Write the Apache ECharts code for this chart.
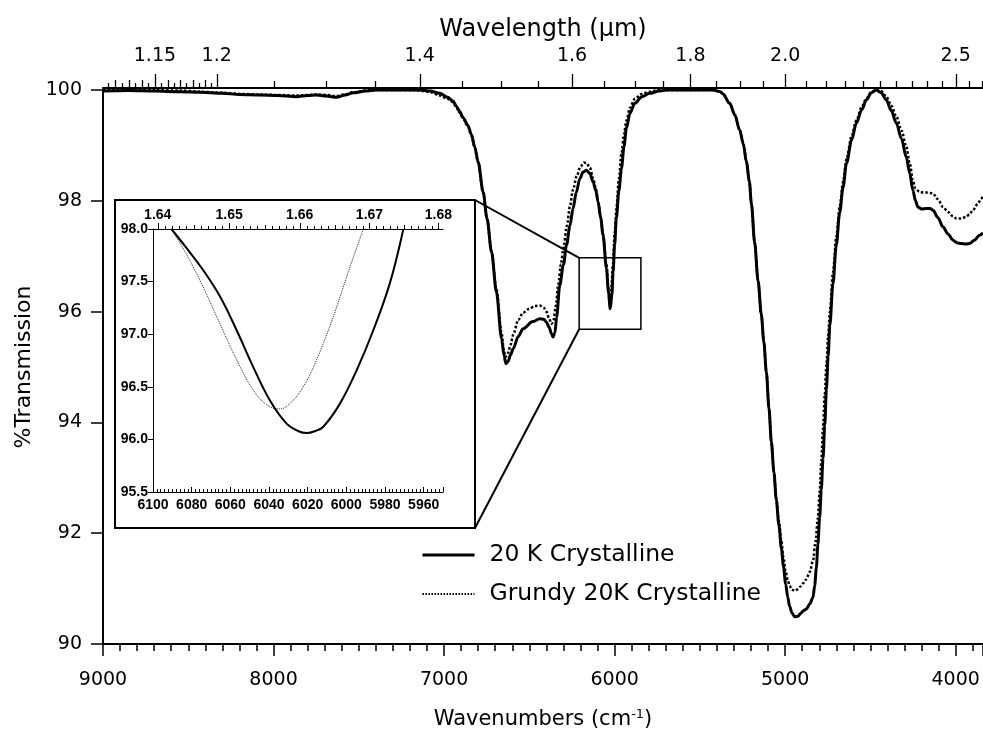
<!DOCTYPE html>
<html><head><meta charset="utf-8">
<script src="https://cdn.jsdelivr.net/npm/echarts@6/dist/echarts.min.js"></script>
<style>html,body{margin:0;padding:0;background:#fff}#c{width:983px;height:731px}</style>
</head><body><div id="c"></div>
<script>
// ---------------- data ----------------
const seriesNames = ['20 K Crystalline', 'Grundy 20K Crystalline'];

const wn20K = [9000,8850,8700,8550,8430,8300,8200,8080,7980,7865,7800,7748,7690,7630,7580,7533,7460,7400,7300,7200,7140,7080,7025,6980,6947,6927,6910,6888,6860,6839,6820,6800,6771,6748,6722,6693,6663,6648,6638,6625,6610,6595,6565,6537,6480,6439,6415,6400,6385,6370,6361,6350,6340,6322,6300,6282,6262,6244,6225,6204,6185,6165,6145,6126,6110,6097,6082,6068,6048,6036,6026,6016,6009,6000,5990,5975,5960,5945,5931,5910,5882,5840,5794,5740,5696,5600,5500,5423,5380,5365,5325,5295,5267,5245,5227,5210,5198,5179,5159,5140,5125,5110,5095,5081,5066,5052,5037,5022,5010,4997,4985,4974,4960,4944,4925,4910,4893,4876,4856,4837,4827,4817,4808,4798,4788,4778,4768,4758,4748,4738,4720,4700,4681,4660,4641,4610,4583,4550,4524,4495,4466,4437,4407,4378,4348,4318,4290,4270,4251,4236,4222,4200,4173,4150,4133,4105,4075,4045,4016,3990,3967,3940,3919,3890,3860,3840];
const t20K = [99.98,99.99,99.98,99.97,99.96,99.94,99.92,99.91,99.90,99.88,99.90,99.91,99.89,99.87,99.91,99.95,99.98,100.0,100.0,100.0,100.0,99.98,99.94,99.87,99.80,99.70,99.62,99.50,99.36,99.19,98.97,98.70,98.16,97.68,97.08,96.35,95.51,95.20,95.06,95.10,95.22,95.33,95.55,95.69,95.82,95.87,95.86,95.81,95.72,95.60,95.54,95.62,95.90,96.47,96.85,97.20,97.55,97.86,98.15,98.40,98.52,98.55,98.49,98.34,98.18,97.98,97.70,97.38,96.78,96.35,96.05,96.30,96.71,97.20,97.68,98.18,98.58,98.98,99.31,99.58,99.76,99.88,99.94,99.98,100.0,100.0,100.0,100.0,99.97,99.93,99.76,99.55,99.28,99.02,98.70,98.35,97.95,97.25,96.56,95.95,95.45,94.90,94.25,93.65,93.10,92.60,92.15,91.72,91.40,91.08,90.85,90.68,90.56,90.49,90.50,90.55,90.60,90.63,90.72,90.84,91.05,91.38,91.80,92.28,92.80,93.35,93.95,94.60,95.20,95.75,96.50,97.20,97.77,98.25,98.67,99.10,99.40,99.65,99.82,99.95,100.0,99.95,99.82,99.63,99.40,99.12,98.79,98.50,98.19,98.00,97.89,97.85,97.86,97.86,97.83,97.70,97.53,97.40,97.29,97.24,97.23,97.22,97.23,97.29,97.38,97.42];

const wnGrundy = [9000,8850,8700,8550,8430,8300,8200,8080,7980,7865,7800,7748,7690,7630,7580,7533,7460,7400,7300,7200,7140,7080,7025,6980,6947,6927,6910,6888,6860,6839,6820,6800,6771,6748,6722,6693,6663,6650,6640,6625,6610,6595,6565,6537,6500,6470,6439,6415,6400,6385,6370,6358,6345,6330,6315,6300,6280,6262,6244,6222,6200,6180,6165,6145,6126,6110,6097,6082,6068,6048,6038,6030,6020,6010,6000,5990,5975,5960,5945,5931,5910,5882,5840,5794,5740,5696,5600,5500,5423,5380,5365,5325,5295,5267,5245,5227,5210,5198,5179,5159,5140,5125,5110,5095,5081,5066,5052,5037,5022,5010,4997,4985,4974,4960,4944,4925,4910,4893,4876,4856,4837,4822,4808,4798,4788,4778,4768,4758,4748,4738,4720,4700,4681,4660,4641,4610,4583,4550,4524,4495,4466,4437,4407,4378,4348,4318,4290,4270,4251,4236,4212,4190,4173,4150,4133,4105,4075,4045,4016,3997,3967,3938,3919,3899,3870,3850,3840];
const tGrundy = [100.0,100.0,100.0,99.99,99.97,99.95,99.93,99.92,99.91,99.90,99.91,99.92,99.91,99.89,99.92,99.96,99.99,100.0,100.0,100.0,99.99,99.96,99.90,99.84,99.78,99.68,99.60,99.48,99.34,99.17,98.95,98.68,98.14,97.66,97.08,96.40,95.62,95.30,95.18,95.25,95.40,95.58,95.85,95.98,96.05,96.10,96.11,96.07,96.00,95.88,95.78,95.85,96.10,96.50,96.85,97.15,97.55,97.90,98.20,98.45,98.62,98.69,98.68,98.60,98.40,98.22,98.00,97.70,97.40,96.85,96.45,96.20,96.40,96.85,97.40,97.85,98.40,98.85,99.20,99.45,99.68,99.84,99.93,99.97,100.0,100.0,100.0,100.0,100.0,99.97,99.93,99.76,99.55,99.28,99.02,98.70,98.35,97.95,97.25,96.56,95.95,95.45,94.90,94.25,93.65,93.10,92.62,92.22,91.85,91.55,91.30,91.15,91.05,90.98,90.96,90.99,91.04,91.10,91.17,91.30,91.50,91.85,92.28,92.75,93.30,93.90,94.50,95.05,95.55,96.00,96.70,97.35,97.88,98.35,98.75,99.17,99.45,99.70,99.85,99.96,100.0,99.98,99.88,99.72,99.52,99.27,98.98,98.68,98.37,98.22,98.16,98.15,98.15,98.14,98.13,98.03,97.89,97.80,97.72,97.68,97.68,97.71,97.76,97.83,97.95,98.04,98.08];

const insetWn20K = [6090.5,6082.7,6074.1,6065.4,6056.8,6048.2,6039.5,6030.9,6025,6020.5,6016,6011.9,6003.3,5994.6,5986,5977.4,5970.5];
const insetT20K  = [98.0,97.82,97.61,97.36,97.04,96.69,96.37,96.15,96.08,96.06,96.08,96.12,96.34,96.66,97.04,97.49,98.0];
const insetWnGrundy = [6090.5,6082.7,6074.1,6065.4,6056.8,6048.2,6041.2,6034.4,6029.2,6022.3,6015.3,6006.7,5998.1,5991.2];
const insetTGrundy  = [98.0,97.76,97.45,97.10,96.76,96.47,96.33,96.29,96.34,96.50,96.76,97.17,97.64,98.0];

// wavelength (µm) ticks of the top axes
const topLabelWl = [1.15, 1.2, 1.4, 1.6, 1.8, 2.0, 2.5];
const topLabelText = ['1.15', '1.2', '1.4', '1.6', '1.8', '2.0', '2.5'];
const insetTopLabelWl = [1.64, 1.65, 1.66, 1.67, 1.68];
const insetTopLabelText = ['1.64', '1.65', '1.66', '1.67', '1.68'];

// zoomed region marked on the main plot
const zoomBoxWn = [6208, 5846];
const zoomBoxT = [96.97, 95.68];

// ---------------- build ----------------
const zip = (a, b) => a.map((v, i) => [v, b[i]]);
const FONT = 'DejaVu Sans';
const IFONT = 'Liberation Sans';

function r3(v) { return Math.round(v * 1000) / 1000; }
const mainTopTicks = [];
for (let k = 0; k <= 16; k++) {
  const wl = r3(1.115 + k * 0.005);
  if (wl >= 1.2) break;
  if (Math.abs(wl - 1.15) < 1e-6) continue;
  mainTopTicks.push({ wl, len: (Math.round(wl * 1000) % 10 === 0) ? 8 : 5 });
}
for (let k = 0; k <= 30; k++) {
  const wl = r3(1.25 + k * 0.05);
  if (10000 / wl < 3840) break;
  if (topLabelWl.some(l => Math.abs(l - wl) < 1e-6)) continue;
  mainTopTicks.push({ wl, len: 7 });
}
topLabelWl.forEach((wl, i) => mainTopTicks.push({ wl, len: 14, label: topLabelText[i] }));

const insetTopTicks = [];
for (let k = 0; k <= 40; k++) {
  const wl = r3(1.64 + k * 0.001);
  const li = insetTopLabelWl.findIndex(l => Math.abs(l - wl) < 1e-6);
  if (li >= 0) insetTopTicks.push({ wl, len: 6, label: insetTopLabelText[li] });
  else insetTopTicks.push({ wl, len: (Math.round(wl * 1000) % 5 === 0) ? 4 : 3 });
}

function tickRenderer(ticks, yVal, offset, labelGap, font, lw) {
  return function (params, api) {
    const t = ticks[params.dataIndex];
    const p = api.coord([10000 / t.wl, yVal]);
    const x = Math.round(p[0]) + 0.5;
    const y0 = p[1] - offset;
    const children = [{
      type: 'line', shape: { x1: x, y1: y0, x2: x, y2: y0 - t.len },
      style: { stroke: '#000', lineWidth: lw }
    }];
    if (t.label) {
      children.push({
        type: 'text', x: p[0], y: y0 - labelGap,
        style: { text: t.label, font: font, fill: '#000', align: 'center', verticalAlign: 'middle' }
      });
    }
    return { type: 'group', children };
  };
}

const chart = echarts.init(document.getElementById('c'), null, { renderer: 'canvas' });
const plain = v => String(v);

const option = {
  animation: false,
  backgroundColor: '#fff',
  grid: [
    { left: 103, right: 0, top: 90, bottom: 87, outerBoundsMode: 'none', containLabel: false },
    { left: 153, top: 229, width: 290, height: 263, outerBoundsMode: 'none', containLabel: false }
  ],
  xAxis: [
    {
      gridIndex: 0, type: 'value', min: 3840, max: 9000, inverse: true, splitNumber: 5,
      axisLine: { lineStyle: { color: '#000', width: 2 } },
      axisTick: { length: 12, lineStyle: { color: '#000', width: 1.5 } },
      minorTick: { show: true, splitNumber: 10, length: 7, lineStyle: { color: '#000', width: 1.5 } },
      splitLine: { show: false },
      axisLabel: { showMinLabel: false, margin: 27, color: '#000', fontFamily: FONT, fontSize: 19, formatter: plain },
      name: '{a|Wavenumbers (cm}{s|-1}{a|)}', nameLocation: 'middle', nameGap: 64,
      nameTextStyle: {
        rich: {
          a: { fontFamily: FONT, fontSize: 21, color: '#000' },
          s: { fontFamily: FONT, fontSize: 13, color: '#000', verticalAlign: 'top', padding: [0, 0, 10, 0] }
        }
      }
    },
    {
      gridIndex: 0, type: 'value', position: 'top', offset: 2, min: 3840, max: 9000, inverse: true,
      axisLine: { lineStyle: { color: '#000', width: 2 } },
      axisTick: { show: false }, axisLabel: { show: false }, splitLine: { show: false },
      name: 'Wavelength (\u03bcm)', nameLocation: 'middle', nameGap: 46,
      nameTextStyle: { fontFamily: FONT, fontSize: 24, color: '#000' }
    },
    {
      gridIndex: 1, type: 'value', min: 5950, max: 6100, inverse: true, splitNumber: 7,
      axisLine: { lineStyle: { color: '#000', width: 1 } },
      axisTick: { inside: true, length: 5, lineStyle: { color: '#000', width: 1 } },
      minorTick: { show: true, splitNumber: 10, length: 3, lineStyle: { color: '#000', width: 1 } },
      splitLine: { show: false },
      axisLabel: { showMinLabel: false, margin: 6, color: '#000', fontFamily: IFONT, fontWeight: 'bold', fontSize: 14, formatter: plain }
    },
    {
      gridIndex: 1, type: 'value', position: 'top', min: 5950, max: 6100, inverse: true,
      axisLine: { lineStyle: { color: '#000', width: 1 } },
      axisTick: { show: false }, axisLabel: { show: false }, splitLine: { show: false }
    }
  ],
  yAxis: [
    {
      gridIndex: 0, type: 'value', min: 90, max: 100, interval: 2,
      axisLine: { show: true, lineStyle: { color: '#000', width: 2 } },
      axisTick: { show: true, length: 12, lineStyle: { color: '#000', width: 1.5 } },
      splitLine: { show: false },
      axisLabel: { margin: 21, color: '#000', fontFamily: FONT, fontSize: 19, formatter: plain },
      name: '%Transmission', nameLocation: 'middle', nameGap: 58, nameRotate: 90,
      nameTextStyle: { fontFamily: FONT, fontSize: 22, color: '#000' }
    },
    {
      gridIndex: 1, type: 'value', min: 95.5, max: 98.0, interval: 0.5,
      axisLine: { show: true, lineStyle: { color: '#000', width: 1 } },
      axisTick: { show: true, length: 5, lineStyle: { color: '#000', width: 1 } },
      splitLine: { show: false },
      axisLabel: { margin: 5, color: '#000', fontFamily: IFONT, fontWeight: 'bold', fontSize: 14,
        formatter: v => v.toFixed(1) }
    }
  ],
  legend: {
    data: [
      { name: seriesNames[0], lineStyle: { width: 3 }, itemStyle: { opacity: 0 } },
      { name: seriesNames[1], lineStyle: { width: 2, type: [1.5, 1.5] }, itemStyle: { opacity: 0 } }
    ],
    orient: 'vertical', left: 421, top: 543, padding: 0, itemWidth: 52, itemHeight: 14, itemGap: 15,
    selectedMode: false,
    textStyle: { fontFamily: FONT, fontSize: 23.5, color: '#000', padding: [0, 0, 0, 10] }
  },
  series: [
    {
      name: seriesNames[0], type: 'line', xAxisIndex: 0, yAxisIndex: 0,
      data: zip(wn20K, t20K), showSymbol: false, symbol: 'none', smooth: 0.3, smoothMonotone: 'x',
      lineStyle: { color: '#000', width: 3 }, itemStyle: { color: '#000' }, z: 3
    },
    {
      name: seriesNames[1], type: 'line', xAxisIndex: 0, yAxisIndex: 0,
      data: zip(wnGrundy, tGrundy), showSymbol: false, symbol: 'none', smooth: 0.3, smoothMonotone: 'x',
      lineStyle: { color: '#000', width: 2.5, type: [2.5, 2] }, itemStyle: { color: '#000' }, z: 2
    },
    {
      name: 'inset 20K', type: 'line', xAxisIndex: 2, yAxisIndex: 1,
      data: zip(insetWn20K, insetT20K), showSymbol: false, symbol: 'none', smooth: 0.4,
      lineStyle: { color: '#000', width: 2 }, z: 3
    },
    {
      name: 'inset Grundy', type: 'line', xAxisIndex: 2, yAxisIndex: 1,
      data: zip(insetWnGrundy, insetTGrundy), showSymbol: false, symbol: 'none', smooth: 0.4,
      lineStyle: { color: '#222', width: 1, type: [1, 1] }, z: 2
    },
    {
      name: 'topTicks', type: 'custom', xAxisIndex: 0, yAxisIndex: 0, clip: false, silent: true,
      data: mainTopTicks.map(t => [10000 / t.wl, 100]),
      renderItem: tickRenderer(mainTopTicks, 100, 2, 32, '19px "DejaVu Sans"', 1.3)
    },
    {
      name: 'insetTopTicks', type: 'custom', xAxisIndex: 2, yAxisIndex: 1, clip: false, silent: true,
      data: insetTopTicks.map(t => [10000 / t.wl, 98]),
      renderItem: tickRenderer(insetTopTicks, 98, 0, 14, 'bold 14px "Liberation Sans"', 1)
    }
  ]
};
chart.setOption(option);

const b1 = chart.convertToPixel({ xAxisIndex: 0, yAxisIndex: 0 }, [zoomBoxWn[0], zoomBoxT[0]]);
const b2 = chart.convertToPixel({ xAxisIndex: 0, yAxisIndex: 0 }, [zoomBoxWn[1], zoomBoxT[1]]);
const frame = { x: 115, y: 200, w: 360, h: 328 };
chart.setOption({
  graphic: [
    { type: 'rect', shape: { x: frame.x, y: frame.y, width: frame.w, height: frame.h },
      style: { fill: 'none', stroke: '#000', lineWidth: 2 }, z: 10 },
    { type: 'rect', shape: { x: b1[0], y: b1[1], width: b2[0] - b1[0], height: b2[1] - b1[1] },
      style: { fill: 'none', stroke: '#000', lineWidth: 1.5 }, z: 10 },
    { type: 'line', shape: { x1: frame.x + frame.w, y1: frame.y, x2: b1[0], y2: b1[1] },
      style: { stroke: '#000', lineWidth: 2 }, z: 10 },
    { type: 'line', shape: { x1: frame.x + frame.w, y1: frame.y + frame.h, x2: b1[0], y2: b2[1] },
      style: { stroke: '#000', lineWidth: 2 }, z: 10 }
  ]
});
</script></body></html>
